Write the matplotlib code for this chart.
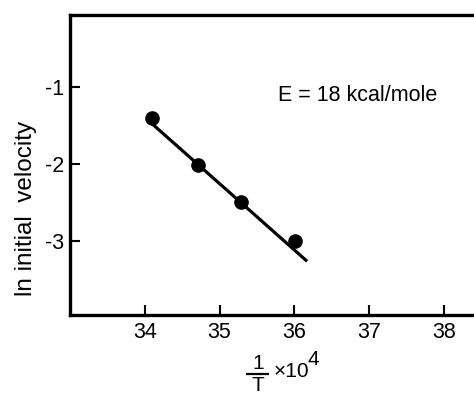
import matplotlib
matplotlib.use('Agg')
import matplotlib.pyplot as plt
from matplotlib.lines import Line2D

# Arrhenius data
inv_t = [34.09, 34.71, 35.29, 36.01]
ln_v = [-1.40, -2.01, -2.50, -3.01]
fit_x = [34.10, 36.17]
fit_y = [-1.48, -3.27]
xticks = [34, 35, 36, 37, 38]
yticks = [-1, -2, -3]

plt.rcParams['font.family'] = ['Liberation Sans', 'DejaVu Sans']
plt.rcParams['axes.unicode_minus'] = False

W, H = 474, 396
fig = plt.figure(figsize=(W / 100, H / 100), dpi=100)
ax = fig.add_axes([70 / W, 81 / H, 1.0, 300 / H])

ax.plot(fit_x, fit_y, color='black', lw=2.3, solid_capstyle='butt')
ax.plot(inv_t, ln_v, 'o', color='black', ms=9.5)

ax.set_xlim(33, 33 + W / 74.8)
ax.set_ylim(-3.97, -0.06)
ax.set_xticks(xticks)
ax.set_yticks(yticks)
ax.set_xticklabels([str(t) for t in xticks])
ax.set_yticklabels([str(t) for t in yticks])
ax.tick_params(direction='in', length=7, width=1.5, labelsize=15.5)
ax.tick_params(axis='x', pad=5)
ax.tick_params(axis='y', pad=4)
for s in ax.spines.values():
    s.set_linewidth(2.4)
ax.spines['right'].set_visible(False)

ax.text(35.78, -1.11, 'E = 18 kcal/mole', fontsize=15.5, va='center', ha='left')

fig.text(26 / W, 1 - 208 / H, 'ln initial  velocity', rotation=90,
         fontsize=17.5, ha='center', va='center')

# x label: 1/T x 10^4 built from pieces (pixel positions from the top)
def px(x, y):
    return x / W, 1 - y / H

fig.text(*px(258, 369), '1', fontsize=15, ha='center', va='baseline')
fig.add_artist(Line2D([247 / W, 268 / W], [1 - 374 / H] * 2, color='black', lw=1.6))
fig.text(*px(258, 391), 'T', fontsize=15, ha='center', va='baseline')
fig.text(*px(274, 377), '×10', fontsize=15, ha='left', va='baseline')
fig.text(*px(307, 365), '4', fontsize=15, ha='left', va='baseline')

fig.savefig('out.png', dpi=100)
